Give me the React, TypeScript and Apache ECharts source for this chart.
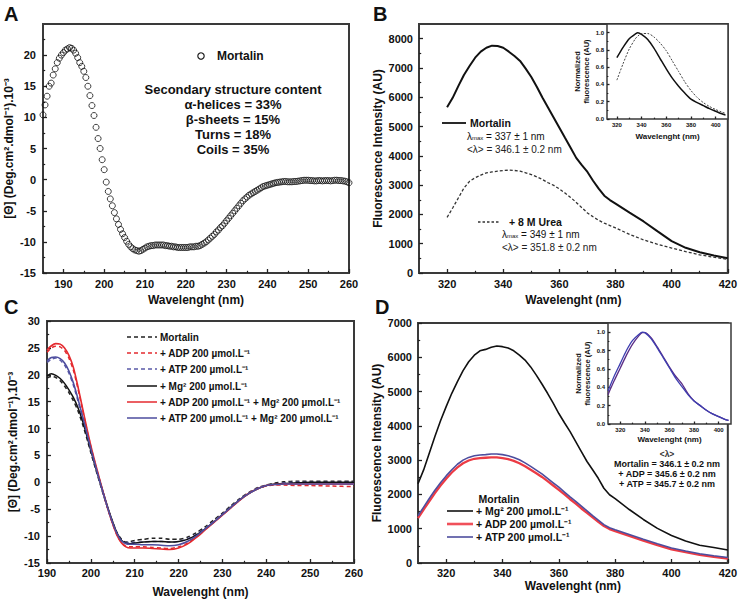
import React, { useEffect, useRef } from 'react';
import * as echarts from 'echarts';

const FONT = '"Liberation Sans", Arial, Helvetica, sans-serif';

// ---------- Panel A : CD spectrum of Mortalin (0.5 nm steps from 185 nm) ----------
const A_START = 185;
const A_STEP = 0.5;
const A_MORTALIN = [
  10.4, 12.0, 13.4, 15.0, 15.5, 16.8, 17.8, 18.8, 19.5, 20.0,
  20.4, 20.8, 21.0, 21.2, 21.1, 20.8, 20.3, 19.6, 18.8, 18.2,
  17.4, 16.4, 15.0, 13.5, 11.9, 10.3, 8.4, 6.6, 5.0, 3.2,
  1.6, -0.4, -1.9, -3.1, -4.2, -5.3, -6.3, -7.2, -8.0, -8.7,
  -9.3, -9.9, -10.4, -10.8, -11.1, -11.3, -11.4, -11.5, -11.4, -11.2,
  -11.0, -10.8, -10.7, -10.6, -10.6, -10.5, -10.5, -10.5, -10.5, -10.5,
  -10.6, -10.6, -10.7, -10.7, -10.8, -10.8, -10.9, -10.9, -10.9, -10.9,
  -10.9, -10.9, -10.8, -10.8, -10.8, -10.7, -10.7, -10.6, -10.4, -10.2,
  -10.0, -9.7, -9.4, -9.1, -8.8, -8.4, -8.1, -7.7, -7.4, -7.0,
  -6.6, -6.2, -5.8, -5.4, -5.0, -4.6, -4.2, -3.8, -3.4, -3.1,
  -2.8, -2.5, -2.3, -2.1, -1.9, -1.7, -1.5, -1.3, -1.1, -1.0,
  -0.9, -0.8, -0.7, -0.6, -0.5, -0.45, -0.4, -0.35, -0.3, -0.3,
  -0.35, -0.35, -0.35, -0.3, -0.3, -0.25, -0.2, -0.15, -0.1, -0.1,
  -0.1, -0.15, -0.15, -0.2, -0.2, -0.15, -0.15, -0.2, -0.15, -0.15,
  -0.15, -0.2, -0.15, -0.1, -0.1, -0.15, -0.15, -0.2, -0.25, -0.35,
  -0.5,
];

// ---------- Panel B : intrinsic fluorescence ----------
const B_WL = [
  320, 322, 324, 326, 328, 330, 332, 334, 336, 338, 340, 342, 344, 346, 348, 350,
  352, 354, 356, 358, 360, 362, 364, 366, 368, 370, 372, 374, 376, 378, 380,
  385, 390, 395, 400, 405, 410, 415, 420,
];
const B_MORTALIN = [
  5660, 5980, 6380, 6760, 7065, 7350, 7555, 7690, 7760, 7750, 7690, 7555, 7410, 7240, 6975, 6690,
  6350, 5980, 5640, 5300, 4960, 4615, 4275, 3930, 3680, 3450, 3150, 2880, 2640, 2490, 2370,
  2060, 1760, 1420, 1090, 860, 710, 595, 500,
];
const B_UREA = [
  1900, 2220, 2560, 2900, 3130, 3250, 3340, 3420, 3450, 3475, 3500, 3510, 3500, 3475, 3420, 3360,
  3280, 3190, 3080, 2990, 2870, 2730, 2580, 2410, 2230, 2050, 1920, 1800, 1700, 1620, 1540,
  1320, 1130, 980, 850, 730, 620, 540, 470,
];
const BI_WL = [320, 325, 330, 335, 337, 340, 345, 350, 355, 360, 365, 370, 375, 380, 385, 390, 395, 400, 405, 408];
const BI_MORTALIN = [0.71, 0.83, 0.93, 0.985, 1.0, 0.98, 0.92, 0.82, 0.70, 0.58, 0.47, 0.38, 0.30, 0.23, 0.19, 0.155, 0.12, 0.09, 0.06, 0.045];
const BI_UREA = [0.45, 0.64, 0.81, 0.93, 0.96, 0.99, 0.99, 0.95, 0.88, 0.79, 0.67, 0.55, 0.43, 0.33, 0.25, 0.19, 0.145, 0.11, 0.08, 0.065];

// ---------- Panel C : CD with ligands ----------
const C_WL = [
  190, 191, 192, 193, 194, 195, 196, 197, 198, 199, 200, 201, 202, 203, 204, 205, 206, 207, 208, 209, 210,
  212, 214, 216, 218, 220, 222, 224, 226, 228, 230, 232, 234, 236, 238, 240, 242, 244,
  247, 250, 255, 260,
];
const C_MORTALIN = [
  19.4, 19.7, 19.5, 18.9, 17.9, 16.7, 15.2, 13.4, 11.1, 8.4, 5.5, 2.7, 0.0, -2.7, -5.2, -7.5, -9.4, -10.6, -11.1, -11.0, -10.8,
  -10.6, -10.4, -10.4, -10.6, -10.6, -10.2, -9.4, -8.3, -7.0, -5.7, -4.3, -3.0, -1.9, -1.0, -0.5, -0.1, 0.1,
  0.2, 0.2, 0.2, 0.2,
];
const C_ADP = [
  24.2, 25.0, 25.3, 25.2, 24.5, 23.1, 20.9, 17.6, 13.9, 10.1, 6.6, 3.4, 0.4, -2.6, -5.3, -7.8, -9.9, -11.2, -11.9, -12.0, -12.0,
  -12.0, -12.1, -12.2, -12.3, -12.0, -11.3, -10.2, -8.8, -7.4, -6.0, -4.6, -3.2, -2.0, -1.2, -0.7, -0.5, -0.5,
  -0.6, -0.6, -0.7, -0.8,
];
const C_ATP = [
  22.3, 22.9, 23.1, 22.7, 21.8, 20.3, 18.1, 15.3, 12.3, 9.2, 6.0, 3.0, 0.2, -2.6, -5.2, -7.6, -9.6, -10.8, -11.2, -11.2, -11.2,
  -11.1, -11.0, -11.0, -11.1, -11.0, -10.5, -9.7, -8.6, -7.3, -5.9, -4.5, -3.1, -2.0, -1.1, -0.6, -0.3, -0.1,
  0.0, 0.0, 0.0, 0.0,
];
const C_MG = [
  19.8, 20.2, 19.9, 19.3, 18.4, 17.2, 15.8, 14.0, 11.7, 8.9, 5.9, 3.0, 0.3, -2.4, -5.0, -7.4, -9.5, -10.8, -11.3, -11.4, -11.3,
  -11.1, -11.0, -11.0, -11.1, -11.0, -10.6, -9.8, -8.7, -7.4, -6.0, -4.6, -3.2, -2.1, -1.2, -0.6, -0.3, -0.2,
  -0.1, 0.0, 0.0, 0.0,
];
const C_ADP_MG = [
  24.6, 25.4, 25.8, 25.7, 25.0, 23.6, 21.4, 18.0, 14.2, 10.4, 6.8, 3.6, 0.6, -2.4, -5.3, -7.8, -9.9, -11.3, -12.0, -12.2, -12.2,
  -12.2, -12.3, -12.4, -12.5, -12.2, -11.5, -10.3, -8.9, -7.5, -6.1, -4.7, -3.3, -2.1, -1.2, -0.6, -0.4, -0.3,
  -0.3, -0.3, -0.3, -0.3,
];
const C_ATP_MG = [
  22.6, 23.2, 23.3, 23.0, 22.2, 20.7, 18.5, 15.7, 12.6, 9.4, 6.2, 3.2, 0.3, -2.5, -5.2, -7.6, -9.6, -10.9, -11.4, -11.5, -11.5,
  -11.6, -11.6, -11.7, -11.8, -11.6, -11.0, -10.0, -8.7, -7.4, -6.0, -4.6, -3.2, -2.1, -1.2, -0.6, -0.4, -0.3,
  -0.3, -0.3, -0.3, -0.3,
];

// ---------- Panel D : fluorescence with ligands ----------
const D_WL = [
  310, 312, 314, 316, 318, 320, 322, 324, 326, 328, 330, 332, 334, 336, 338, 340, 342, 344,
  346, 348, 350, 352, 354, 356, 358, 360, 362, 364, 366, 368, 370, 372, 374, 376, 378, 380,
  385, 390, 395, 400, 405, 410, 415, 420,
];
const D_MG = [
  2310, 2715, 3200, 3690, 4150, 4560, 4950, 5290, 5610, 5870, 6060, 6190, 6230, 6290, 6330, 6310, 6270, 6190,
  6060, 5920, 5720, 5480, 5220, 4950, 4660, 4360, 4090, 3830, 3540, 3250, 2960, 2720, 2470, 2180, 1990, 1880,
  1560, 1270, 1010, 800, 640, 520, 450, 380,
];
const D_ADP = [
  1310, 1560, 1800, 2040, 2260, 2460, 2640, 2790, 2910, 2990, 3040, 3060, 3070, 3080, 3080, 3060, 3030, 2980,
  2910, 2820, 2720, 2620, 2510, 2390, 2260, 2130, 2000, 1860, 1730, 1590, 1460, 1330, 1200, 1080, 990, 930,
  790, 650, 520, 400, 320, 240, 180, 130,
];
const D_ATP = [
  1380, 1630, 1880, 2120, 2340, 2540, 2720, 2880, 3000, 3080, 3130, 3150, 3160, 3180, 3180, 3160, 3130, 3080,
  3010, 2920, 2820, 2710, 2600, 2470, 2340, 2210, 2070, 1930, 1800, 1660, 1520, 1380, 1250, 1120, 1030, 970,
  830, 690, 560, 440, 350, 270, 210, 160,
];
const DI_WL = [310, 315, 320, 325, 330, 335, 338, 340, 345, 350, 355, 360, 365, 370, 375, 380, 385, 390, 395, 400, 405, 408];
const DI_ONE = [0.36, 0.52, 0.66, 0.80, 0.91, 0.975, 1.0, 0.995, 0.93, 0.83, 0.72, 0.61, 0.50, 0.41, 0.32, 0.25, 0.20, 0.15, 0.11, 0.08, 0.05, 0.04];
const DI_TWO = [0.32, 0.47, 0.61, 0.75, 0.87, 0.96, 0.995, 0.995, 0.94, 0.84, 0.73, 0.62, 0.52, 0.44, 0.33, 0.25, 0.20, 0.15, 0.11, 0.08, 0.05, 0.04];

// ---------- tick values ----------
const CD_X_MAJOR = [190, 200, 210, 220, 230, 240, 250, 260];
const A_X_MINOR = [185, 195, 205, 215, 225, 235, 245, 255];
const C_X_MINOR = [195, 205, 215, 225, 235, 245, 255];
const A_Y_MAJOR = [-15, -10, -5, 0, 5, 10, 15, 20];
const A_Y_MINOR = [-12.5, -7.5, -2.5, 2.5, 7.5, 12.5, 17.5, 22.5];
const C_Y_MAJOR = [-15, -10, -5, 0, 5, 10, 15, 20, 25, 30];
const C_Y_MINOR = [-12.5, -7.5, -2.5, 2.5, 7.5, 12.5, 17.5, 22.5, 27.5];
const FL_X_MAJOR = [320, 340, 360, 380, 400, 420];
const FL_X_MINOR = [330, 350, 370, 390, 410];
const B_Y_MAJOR = [0, 1000, 2000, 3000, 4000, 5000, 6000, 7000, 8000];
const B_Y_MINOR = [500, 1500, 2500, 3500, 4500, 5500, 6500, 7500];
const D_Y_MAJOR = [0, 1000, 2000, 3000, 4000, 5000, 6000, 7000];
const D_Y_MINOR = [500, 1500, 2500, 3500, 4500, 5500, 6500];
const IN_X_MAJOR = [320, 340, 360, 380, 400];
const IN_X_MINOR = [330, 350, 370, 390];
const IN_Y_MAJOR = [0, 0.2, 0.4, 0.6, 0.8, 1.0];
const IN_Y_MINOR = [0.1, 0.3, 0.5, 0.7, 0.9];

const pairs = (xs: number[], ys: number[]) => xs.map((x, i) => [x, ys[i]]);

type Spec = {
  grid: number; min: number; max: number; major: number[]; minor: number[];
  fontSize: number; margin: number; tickLen: number;
  name?: string; nameGap?: number; nameSize?: number; nameLineHeight?: number;
  fmt?: (v: number) => string;
};

function makeAxes(kind: 'x' | 'y', s: Spec) {
  const common: any = {
    type: 'value', gridIndex: s.grid, min: s.min, max: s.max,
    position: kind === 'x' ? 'bottom' : 'left',
    axisLine: { show: false, onZero: false }, splitLine: { show: false }, minorTick: { show: false },
  };
  const main: any = {
    ...common,
    axisTick: { show: true, inside: true, length: s.tickLen, lineStyle: { color: '#222', width: 1.3 }, customValues: s.major },
    axisLabel: {
      show: true, customValues: s.major, formatter: s.fmt || ((v: number) => String(v)),
      fontSize: s.fontSize, fontWeight: 'bold', fontFamily: FONT, color: '#111', margin: s.margin,
    },
  };
  if (s.name) {
    main.name = s.name;
    main.nameLocation = 'middle';
    main.nameGap = s.nameGap;
    main.nameTextStyle = {
      fontSize: s.nameSize, fontWeight: 'bold', fontFamily: FONT, color: '#111',
      lineHeight: s.nameLineHeight || Math.round((s.nameSize || 12) * 1.2),
    };
  }
  const minor: any = {
    ...common,
    axisTick: { show: true, inside: true, length: s.tickLen * 0.55, lineStyle: { color: '#222', width: 1.2 }, customValues: s.minor },
    axisLabel: { show: false },
  };
  return [main, minor];
}

const txt = (text: string, x: number, y: number, size: number, opts: any = {}) => ({
  type: 'text', x, y, z: 100,
  style: {
    text, fontSize: size, fontWeight: opts.weight || 'bold', fontFamily: FONT,
    fill: opts.color || '#111', align: opts.align || 'left', verticalAlign: opts.valign || 'middle',
    textAlign: opts.align || 'left', textVerticalAlign: opts.valign || 'middle',
    lineHeight: opts.lineHeight, rich: opts.rich,
  },
});
const seg = (x1: number, y1: number, x2: number, y2: number, color: string, width: number, dash?: number[]) => ({
  type: 'line', z: 100, shape: { x1, y1, x2, y2 },
  style: { stroke: color, lineWidth: width, lineDash: dash },
});

const lambdaRich = {
  n: { fontSize: 10, fontFamily: FONT, color: '#222' },
  s: { fontSize: 6, fontFamily: FONT, color: '#222', verticalAlign: 'bottom', padding: [4, 0, 0, 0] },
};

export default function App() {
  const ref = useRef<HTMLDivElement>(null);
  useEffect(() => {
    if (!ref.current) return;
    const chart = echarts.init(ref.current, null, { renderer: 'svg' });

    const gridStyle = { show: true, borderColor: '#3a3a3a', borderWidth: 2, backgroundColor: 'transparent' };
    const insetStyle = { show: true, borderColor: '#3a3a3a', borderWidth: 1.5, backgroundColor: '#fff' };
    const grids = [
      { left: 43, top: 24, width: 306, height: 249, ...gridStyle },
      { left: 419, top: 24, width: 309, height: 249, ...gridStyle },
      { left: 47, top: 321, width: 307, height: 243, ...gridStyle },
      { left: 418, top: 323, width: 313, height: 240, ...gridStyle },
      { left: 607, top: 24, width: 121, height: 95, ...insetStyle },
      { left: 608, top: 323, width: 123, height: 101, ...insetStyle },
    ];

    const yTitle = '[Θ] (Deg.cm².dmol⁻¹).10⁻³';
    const xTitle = 'Wavelenght (nm)';
    const fmt1 = (v: number) => v.toFixed(1);
    const xAxes = [
      ...makeAxes('x', { grid: 0, min: 185, max: 260, major: CD_X_MAJOR, minor: A_X_MINOR, fontSize: 11, margin: 5, tickLen: 4, name: xTitle, nameGap: 20, nameSize: 12 }),
      ...makeAxes('x', { grid: 1, min: 310, max: 420, major: FL_X_MAJOR, minor: FL_X_MINOR, fontSize: 11, margin: 5, tickLen: 4, name: xTitle, nameGap: 20, nameSize: 12 }),
      ...makeAxes('x', { grid: 2, min: 190, max: 260, major: CD_X_MAJOR, minor: C_X_MINOR, fontSize: 11, margin: 4, tickLen: 4, name: xTitle, nameGap: 22, nameSize: 12 }),
      ...makeAxes('x', { grid: 3, min: 310, max: 420, major: FL_X_MAJOR, minor: FL_X_MINOR, fontSize: 11, margin: 4, tickLen: 4, name: xTitle, nameGap: 16, nameSize: 12 }),
      ...makeAxes('x', { grid: 4, min: 312, max: 410, major: IN_X_MAJOR, minor: IN_X_MINOR, fontSize: 6, margin: 3, tickLen: 2.5, name: xTitle, nameGap: 12, nameSize: 8 }),
      ...makeAxes('x', { grid: 5, min: 310, max: 410, major: IN_X_MAJOR, minor: IN_X_MINOR, fontSize: 6, margin: 3, tickLen: 2.5, name: xTitle, nameGap: 10, nameSize: 8 }),
    ];
    const yAxes = [
      ...makeAxes('y', { grid: 0, min: -15, max: 25, major: A_Y_MAJOR, minor: A_Y_MINOR, fontSize: 11, margin: 7, tickLen: 4, name: yTitle, nameGap: 21, nameSize: 12 }),
      ...makeAxes('y', { grid: 1, min: 0, max: 8500, major: B_Y_MAJOR, minor: B_Y_MINOR, fontSize: 11, margin: 6, tickLen: 4, name: 'Fluorescence Intensity (AU)', nameGap: 34, nameSize: 12 }),
      ...makeAxes('y', { grid: 2, min: -15, max: 30, major: C_Y_MAJOR, minor: C_Y_MINOR, fontSize: 11, margin: 7, tickLen: 4, name: yTitle, nameGap: 24, nameSize: 12 }),
      ...makeAxes('y', { grid: 3, min: 0, max: 7000, major: D_Y_MAJOR, minor: D_Y_MINOR, fontSize: 11, margin: 6, tickLen: 4, name: 'Fluorescence Intensity (AU)', nameGap: 30, nameSize: 12 }),
      ...makeAxes('y', { grid: 4, min: 0, max: 1.1, major: IN_Y_MAJOR, minor: IN_Y_MINOR, fontSize: 6, margin: 3, tickLen: 2.5, name: 'Normalized\nfluorescence (AU)', nameGap: 16, nameSize: 7.5, nameLineHeight: 9, fmt: fmt1 }),
      ...makeAxes('y', { grid: 5, min: 0, max: 1.1, major: IN_Y_MAJOR, minor: IN_Y_MINOR, fontSize: 6, margin: 3, tickLen: 2.5, name: 'Normalized\nfluorescence (AU)', nameGap: 16, nameSize: 7.5, nameLineHeight: 9, fmt: fmt1 }),
    ];

    const line = (name: string, p: number, data: number[][], color: string, width: number, dash?: number[] | 'solid', smooth: number | boolean = 0.25) => ({
      type: 'line', name, xAxisIndex: p * 2, yAxisIndex: p * 2, data, showSymbol: false, symbol: 'none',
      smooth, lineStyle: { color, width, type: dash || 'solid' }, z: 3,
    });

    const aData = A_MORTALIN.map((v, i) => [A_START + i * A_STEP, v]);
    const RED = '#e42a2f';
    const BLUE = '#4d4d9e';

    const series: any[] = [
      {
        type: 'scatter', name: 'Mortalin', xAxisIndex: 0, yAxisIndex: 0, data: aData,
        symbol: 'circle', symbolSize: 6,
        itemStyle: { color: 'rgba(0,0,0,0)', borderColor: '#111', borderWidth: 1 },
      },
      line('Mortalin', 1, pairs(B_WL, B_MORTALIN), '#111', 2, 'solid', false),
      line('+ 8 M Urea', 1, pairs(B_WL, B_UREA), '#333', 1.3, [3, 2], false),
      line('Mortalin', 2, pairs(C_WL, C_MORTALIN), '#222', 1.5, [4, 3]),
      line('+ ADP', 2, pairs(C_WL, C_ADP), RED, 1.5, [4, 3]),
      line('+ ATP', 2, pairs(C_WL, C_ATP), '#5a5aa8', 1.5, [4, 3]),
      line('+ Mg', 2, pairs(C_WL, C_MG), '#111', 1.5),
      line('+ ADP + Mg', 2, pairs(C_WL, C_ADP_MG), RED, 1.6),
      line('+ ATP + Mg', 2, pairs(C_WL, C_ATP_MG), BLUE, 1.6),
      line('+ Mg', 3, pairs(D_WL, D_MG), '#111', 1.6, 'solid', false),
      line('+ ADP', 3, pairs(D_WL, D_ADP), '#ec3b44', 2.3, 'solid', false),
      line('+ ATP', 3, pairs(D_WL, D_ATP), BLUE, 1.6, 'solid', false),
      line('Mortalin', 4, pairs(BI_WL, BI_MORTALIN), '#111', 1.5),
      line('+ 8 M Urea', 4, pairs(BI_WL, BI_UREA), '#444', 1, [2, 1.5]),
      line('A', 5, pairs(DI_WL, DI_TWO), '#5b2d86', 1.3),
      line('B', 5, pairs(DI_WL, DI_ONE), '#3e3eb0', 1.3),
    ];

    const cLegend = [
      { t: 'Mortalin', c: '#222', d: [4, 3] },
      { t: '+ ADP 200 µmol.L⁻¹', c: RED, d: [4, 3] },
      { t: '+ ATP 200 µmol.L⁻¹', c: '#5a5aa8', d: [4, 3] },
      { t: '+ Mg² 200 µmol.L⁻¹', c: '#111', d: undefined },
      { t: '+ ADP 200 µmol.L⁻¹ + Mg² 200 µmol.L⁻¹', c: RED, d: undefined },
      { t: '+ ATP 200 µmol.L⁻¹ + Mg² 200 µmol.L⁻¹', c: BLUE, d: undefined },
    ];
    const cY = [337, 353, 369, 386, 402, 418];

    const dLegend = [
      { t: '+ Mg² 200 µmol.L⁻¹', c: '#111', w: 1.6 },
      { t: '+ ADP 200 µmol.L⁻¹', c: '#f0505a', w: 2.6 },
      { t: '+ ATP 200 µmol.L⁻¹', c: BLUE, w: 1.6 },
    ];
    const dY = [511, 524, 537];

    const graphic: any[] = [
      txt('A', 4, 4, 20, { valign: 'top' }),
      txt('B', 373, 4, 20, { valign: 'top' }),
      txt('C', 4, 297, 20, { valign: 'top' }),
      txt('D', 375, 297, 20, { valign: 'top' }),
      // Panel A annotations
      { type: 'circle', z: 100, shape: { cx: 201, cy: 56, r: 3.2 }, style: { fill: 'none', stroke: '#111', lineWidth: 1.1 } },
      txt('Mortalin', 217, 56, 12),
      txt('Secondary structure content\nα-helices = 33%\nβ-sheets = 15%\nTurns = 18%\nCoils = 35%', 233, 82, 13, { align: 'center', valign: 'top', lineHeight: 15 }),
      // Panel B annotations
      seg(442, 123, 466, 123, '#111', 1.8),
      txt('Mortalin', 470, 123, 10.5),
      txt('{n|λ}{s|max}{n| = 337 ± 1 nm}', 467, 136, 10, { weight: 'normal', rich: lambdaRich }),
      txt('<λ> = 346.1 ± 0.2 nm', 467, 149, 10, { weight: 'normal', color: '#222' }),
      seg(478, 222, 500, 222, '#333', 1.3, [2.5, 2]),
      txt('+ 8 M Urea', 509, 222, 10.5),
      txt('{n|λ}{s|max}{n| = 349 ± 1 nm}', 502, 234, 10, { weight: 'normal', rich: lambdaRich }),
      txt('<λ> = 351.8 ± 0.2 nm', 502, 247, 10, { weight: 'normal', color: '#222' }),
      // Panel D annotations
      txt('<λ>', 667, 454, 8.5, { align: 'center', color: '#333' }),
      txt('Mortalin = 346.1 ± 0.2 nm', 667, 464, 9, { align: 'center' }),
      txt('+ ADP = 345.6 ± 0.2 nm', 667, 474, 9, { align: 'center' }),
      txt('+ ATP = 345.7 ± 0.2 nm', 667, 484, 9, { align: 'center' }),
      txt('Mortalin', 499, 499, 10.5, { align: 'center' }),
    ];
    cLegend.forEach((e, i) => {
      graphic.push(seg(127, cY[i], 157, cY[i], e.c, 1.5, e.d));
      graphic.push(txt(e.t, 160, cY[i], 10));
    });
    dLegend.forEach((e, i) => {
      graphic.push(seg(447, dY[i], 473, dY[i], e.c, e.w));
      graphic.push(txt(e.t, 476, dY[i], 10.5));
    });

    chart.setOption({
      animation: false,
      backgroundColor: '#fff',
      textStyle: { fontFamily: FONT },
      grid: grids,
      xAxis: xAxes,
      yAxis: yAxes,
      series,
      graphic,
    });
    return () => chart.dispose();
  }, []);

  return <div ref={ref} style={{ position: 'absolute', left: 0, top: 0, width: 740, height: 600 }} />;
}
